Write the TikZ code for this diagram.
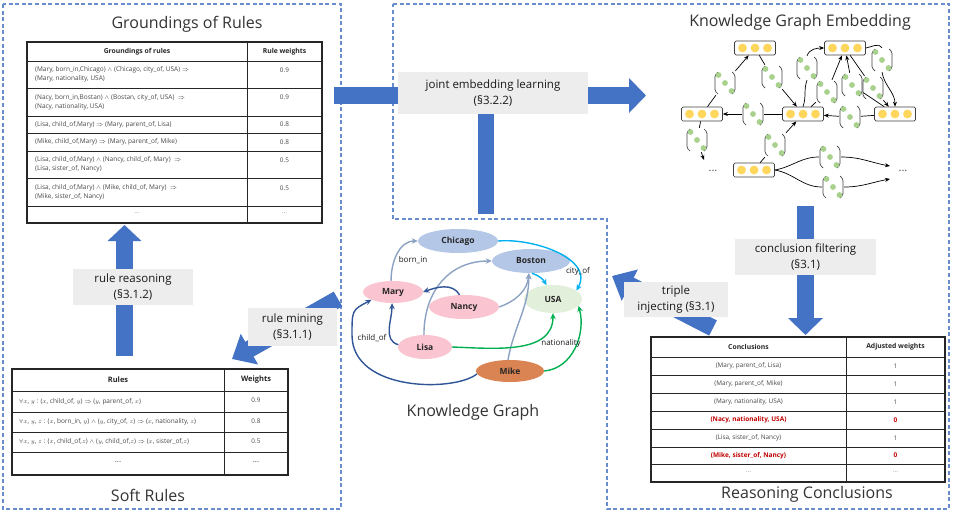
\documentclass[tikz,border=0pt]{standalone}
\usepackage{fontspec}
\setmainfont{Open Sans}
\usetikzlibrary{arrows.meta,shapes.geometric}

\definecolor{dashblue}{RGB}{104,140,206}
\definecolor{bigblue}{RGB}{68,114,196}
\definecolor{labelgray}{RGB}{237,237,237}
\definecolor{kgblue}{RGB}{180,199,231}
\definecolor{kggreen}{RGB}{226,239,218}
\definecolor{kgpink}{RGB}{250,196,208}
\definecolor{kgorange}{RGB}{218,132,84}
\definecolor{edgegray}{RGB}{140,162,194}
\definecolor{edgecyan}{RGB}{0,176,240}
\definecolor{edgedark}{RGB}{47,85,151}
\definecolor{edgegreen}{RGB}{0,176,80}
\definecolor{dotyellow}{RGB}{255,214,92}
\definecolor{dotgreen}{RGB}{169,209,142}
\definecolor{falsered}{RGB}{192,0,0}

\tikzset{
  region/.style={draw=dashblue, line width=1.1pt, dash pattern=on 4pt off 2.6pt},
  title/.style={font=\fontsize{16}{18}\selectfont, text=black!80},
  tabline/.style={draw=black!85, line width=0.9pt},
  tabframe/.style={draw=black!85, line width=1.4pt},
  headcell/.style={font=\fontsize{6.8}{8}\selectfont\bfseries, text=black!85},
  cell/.style={font=\fontsize{6.5}{8.8}\selectfont, text=black!72, anchor=west, align=left, inner sep=0pt},
  wcell/.style={font=\fontsize{6.4}{8}\selectfont, text=black!72},
  redcell/.style={font=\fontsize{6.5}{8}\selectfont\bfseries, text=falsered},
  steplabel/.style={fill=labelgray, align=center, inner sep=0pt, font=\fontsize{11.5}{16}\selectfont, text=black!90},
  bigarrow/.style={draw=bigblue, line width=17pt, -{Triangle[length=17pt,width=34pt]}},
  bigbar/.style={draw=bigblue, line width=16pt},
  kgnode/.style={ellipse, inner sep=1pt, font=\fontsize{8.5}{10}\selectfont\bfseries, text=black!85},
  elabel/.style={font=\fontsize{8}{9}\selectfont, text=black!90},
  kgarrow/.style={line width=1.4pt, -{Stealth[length=6pt,width=5.5pt]}},
  entbox/.style={draw=black!75, fill=white, rounded corners=1.5pt, line width=0.7pt, minimum width=41pt, minimum height=14pt, inner sep=0pt},
  relbox/.style={minimum width=22pt, minimum height=24pt, inner sep=0pt},
  brk/.style={draw=black!75, line width=0.7pt, rounded corners=1.5pt},
  embarrow/.style={line width=0.7pt, -{Stealth[length=5pt,width=4pt]}}
}

\begin{document}
\begin{tikzpicture}[x=1pt,y=-1pt]
\useasboundingbox (0,0) rectangle (953,512);

% regions
\draw[region] (3,4) rectangle (341,509);
\draw[region] (393,4) -- (949,4) -- (949,509) -- (607,509) -- (607,219) -- (393,219) -- cycle;

\node[title] (tgr) at (187,24) {Groundings of Rules};
\node[title] (tkge) at (800,22) {Knowledge Graph Embedding};
\node[title] (tkg) at (473,412) {Knowledge Graph};
\node[title] (tsr) at (148,495) {Soft Rules};
\node[title] (trc) at (807,494) {Reasoning Conclusions};

% groundings of rules
\draw[tabline] (247,42) -- (247,223);
\foreach \y in {61,88,116,133,151,178,206} \draw[tabline] (27,\y) -- (322,\y);
\draw[tabframe] (27,42) rectangle (322,223);
\node[headcell] (gh1) at (137,51.5) {Groundings of rules};
\node[headcell] (gh2) at (284.5,51.5) {Rule weights};
\node[cell] (g1) at (35,74.5) {(Mary, born\_in,Chicago) $\wedge$ (Chicago, city\_of, USA) $\Rightarrow$\\(Mary, nationality, USA)};
\node[cell] (g2) at (35,102) {(Nacy, born\_in,Bostan) $\wedge$ (Bostan, city\_of, USA) \ $\Rightarrow$\\(Nacy, nationality, USA)};
\node[cell] (g3) at (35,124.5) {(Lisa, child\_of,Mary) $\Rightarrow$ (Mary, parent\_of, Lisa)};
\node[cell] (g4) at (35,142) {(Mike, child\_of,Mary) $\Rightarrow$ (Mary, parent\_of, Mike)};
\node[cell] (g5) at (35,164.5) {(Lisa, child\_of,Mary) $\wedge$ (Nancy, child\_of, Mary) \ $\Rightarrow$\\(Lisa, sister\_of, Nancy)};
\node[cell] (g6) at (35,192) {(Lisa, child\_of,Mary) $\wedge$ (Mike, child\_of, Mary) \ $\Rightarrow$\\(Mike, sister\_of, Nancy)};
\node[wcell] (gw1) at (284.5,70) {0.9};
\node[wcell] (gw2) at (284.5,97) {0.9};
\node[wcell] (gw3) at (284.5,124.5) {0.8};
\node[wcell] (gw4) at (284.5,142) {0.8};
\node[wcell] (gw5) at (284.5,160) {0.5};
\node[wcell] (gw6) at (284.5,188) {0.5};
\node[wcell, text=black!45] (g7) at (137,213) {...};
\node[wcell, text=black!45] (gw7) at (284.5,213) {...};

% soft rules
\draw[tabline] (224,369) -- (224,475);
\foreach \y in {391,412,432,452} \draw[tabline] (12,\y) -- (288,\y);
\draw[tabframe] (12,369) rectangle (288,475);
\node[headcell, font=\fontsize{7.5}{9}\selectfont\bfseries] (sh1) at (118,380) {Rules};
\node[headcell, font=\fontsize{7.5}{9}\selectfont\bfseries] (sh2) at (256,380) {Weights};
\node[cell] (s1) at (19,402) {$\forall x$, $y$ : ($x$, child\_of, $y$) $\Rightarrow$ ($y$, parent\_of, $x$)};
\node[cell] (s2) at (19,422) {$\forall x$, $y$, $z$ : ($x$, born\_in, $y$) $\wedge$ ($y$, city\_of, $z$) $\Rightarrow$ ($x$, nationality, $z$)};
\node[cell] (s3) at (19,442) {$\forall x$, $y$, $z$ : ($x$, child\_of,$z$) $\wedge$ ($y$, child\_of,$z$) $\Rightarrow$ ($x$, sister\_of,$z$)};
\node[wcell] (sw1) at (256,400.5) {0.9};
\node[wcell] (sw2) at (256,421) {0.8};
\node[wcell] (sw3) at (256,441.5) {0.5};
\node[wcell, font=\fontsize{8}{9}\selectfont] (s4) at (118,462) {...};
\node[wcell, font=\fontsize{8}{9}\selectfont] (sw4) at (256,462) {...};

% reasoning conclusions
\draw[tabline] (846,337) -- (846,482);
\foreach \y in {357,375,393,411,429,447,464} \draw[tabline] (651,\y) -- (945,\y);
\draw[tabframe] (651,337) rectangle (945,482);
\node[headcell] (ch1) at (748.5,347) {Conclusions};
\node[headcell] (ch2) at (895.5,347) {Adjusted weights};
\node[wcell] (c1) at (748.5,366) {(Mary, parent\_of, Lisa)};
\node[wcell] (c2) at (748.5,384) {(Mary, parent\_of, Mike)};
\node[wcell] (c3) at (748.5,402) {(Mary, nationality, USA)};
\node[redcell] (c4) at (748.5,420) {(Nacy, nationality, USA)};
\node[wcell] (c5) at (748.5,438) {(Lisa, sister\_of, Nancy)};
\node[redcell] (c6) at (748.5,455.5) {(Mike, sister\_of, Nancy)};
\node[wcell, text=black!45] (c7) at (748.5,472) {...};
\node[wcell] (cw1) at (895.5,366) {1};
\node[wcell] (cw2) at (895.5,384) {1};
\node[wcell] (cw3) at (895.5,402) {1};
\node[redcell] (cw4) at (895.5,420) {0};
\node[wcell] (cw5) at (895.5,438) {1};
\node[redcell] (cw6) at (895.5,455.5) {0};
\node[wcell, text=black!45] (cw7) at (895.5,472) {...};

% knowledge graph embedding
\node[entbox] (e1) at (755,48) {};
\node[entbox] (e2) at (845,48) {};
\node[entbox] (e3) at (702,114) {};
\node[entbox] (e4) at (803,114) {};
\node[entbox] (e5) at (895,114) {};
\node[entbox] (e6) at (754,170) {};
\foreach \e in {e1,e2,e3,e4,e5,e6}
  \foreach \d in {-1,0,1} \fill[dotyellow] ([xshift=\d*12.5pt]\e.center) circle (4.4pt);

\node[relbox] (r1) at (725,83) {};
\node[relbox] (r2) at (772,77) {};
\node[relbox] (r3) at (753,114) {};
\node[relbox] (r4) at (850,117) {};
\node[relbox] (r5) at (697,140) {};
\node[relbox] (r6) at (775,145) {};
\node[relbox] (r7) at (830,157) {};
\node[relbox] (r8) at (833,187) {};
\node[relbox] (r9) at (807,68) {};
\node[relbox] (r10) at (827,92) {};
\node[relbox] (r11) at (852,85) {};
\node[relbox] (r12) at (882,60) {};
\node[relbox] (r13) at (873,88) {};
\foreach \r in {r1,r2,r3,r4,r5,r6,r7,r8,r9,r10,r11,r12,r13} {
  \draw[brk] ([shift={(-7,-11)}]\r.center) -- ++(-3,3) -- ++(0,16) -- ++(3,3);
  \draw[brk] ([shift={(7,-11)}]\r.center) -- ++(3,3) -- ++(0,16) -- ++(-3,3);
  \foreach \d in {-1,0,1} \fill[dotgreen] ([shift={(\d*6.5,\d*8)}]\r.center) circle (2.9pt);
}

\node[font=\fontsize{11}{12}\selectfont, text=black!70] (dotsl) at (713,171) {...};
\node[font=\fontsize{11}{12}\selectfont, text=black!70] (dotsr) at (903,171) {...};
\coordinate (d5) at (704,160);
\coordinate (d7) at (890,166);
\coordinate (d8) at (890,179);

\draw[embarrow] (e3) -- (r1) -- (e1);
\draw[embarrow] (e1) -- (r2) -- (e4);
\draw[embarrow] (e4) -- (r3) -- (e3);
\draw[embarrow] (e5) -- (r4) -- (e4);
\draw[embarrow] (e3) -- (r5) -- (d5);
\draw[embarrow] (e6) -- (r6) -- (e4);
\draw[embarrow] (e6.east) to[out=10,in=180] (r7.west) (r7.east) to[out=0,in=170] (d7);
\draw[embarrow] (e6.east) to[out=-10,in=180] (r8.west) (r8.east) to[out=0,in=190] (d8);
\draw[embarrow] (e4.north) to[out=70,in=-110] (r9.south) (r9.north) to[out=70,in=180] (e2.west);
\draw[embarrow] (e4) -- (r10) -- (e2);
\draw[embarrow] (e5) -- (r11) -- (e2);
\draw[embarrow] (e2) -- (r13) -- (e5);
\draw[embarrow] (e2.east) to[out=10,in=120] (r12.north) (r12.south) to[out=-80,in=90] (e5.north);

% knowledge graph
\node[kgnode, fill=kgblue, minimum width=80pt, minimum height=24pt] (chicago) at (458,241) {Chicago};
\node[kgnode, fill=kgblue, minimum width=78pt, minimum height=24pt] (boston) at (531,261) {Boston};
\node[kgnode, fill=kggreen, minimum width=58pt, minimum height=28pt] (usa) at (553,299) {USA};
\node[kgnode, fill=kgpink, minimum width=60pt, minimum height=22pt] (mary) at (393,292) {Mary};
\node[kgnode, fill=kgpink, minimum width=70pt, minimum height=24pt] (nancy) at (464,307) {Nancy};
\node[kgnode, fill=kgpink, minimum width=54pt, minimum height=24pt] (lisa) at (425,347) {Lisa};
\node[kgnode, fill=kgorange, minimum width=68pt, minimum height=22pt] (mike) at (510,371) {Mike};

\draw[kgarrow, edgegray] (mary.100) to[out=90,in=180] (chicago.west);
\draw[kgarrow, edgegray] (lisa.95) to[out=90,in=180,looseness=1.1] (boston.west);
\draw[kgarrow, edgegray] (nancy.east) to[out=20,in=-95] (boston.-100);
\draw[kgarrow, edgegray] (mike.100) to[out=80,in=-90] (boston.-100);
\draw[kgarrow, edgecyan] (chicago.east) to[out=5,in=60] (usa.20);
\draw[kgarrow, edgecyan] (boston.-85) to[out=-20,in=120] (usa.115);
\draw[kgarrow, edgedark] (nancy.110) to[out=120,in=20] (mary.east);
\draw[kgarrow, edgedark] (lisa.175) to[out=165,in=-90] (mary.-95);
\draw[kgarrow, edgedark] (mike.185) .. controls (455,392) and (352,392) .. (352,335) .. controls (352,310) .. (mary.200);
\draw[kgarrow, edgegreen] (lisa.east) to[out=-2,in=-90] (usa.south);
\draw[kgarrow, edgegreen] (mike.east) to[out=5,in=-75] (usa.-15);

\node[elabel] (lborn) at (413,260) {born\_in};
\node[elabel] (lcity) at (578,271) {city\_of};
\node[elabel] (lchild) at (372,338) {child\_of};
\node[elabel] (lnat) at (561,343) {nationality};

% big arrows
\coordinate (jstart) at (334,95.5);
\coordinate (jend) at (646,95.5);
\draw[bigarrow] (jstart) -- (jend);
\coordinate (kgtop) at (486,214);
\node[steplabel, minimum width=190pt, minimum height=42pt] (joint) at (493,93) {joint embedding learning\\(§3.2.2)};
\draw[bigbar] (joint.south -| kgtop) -- (kgtop);

\coordinate (rrstart) at (124.5,356);
\coordinate (rrend) at (124.5,225);
\draw[bigarrow, -{Triangle[length=16pt,width=33pt]}] (rrstart) -- (rrend);
\node[steplabel, minimum width=120pt, minimum height=36pt] (reason) at (133,287) {rule reasoning\\(§3.1.2)};

\coordinate (rmstart) at (338,299);
\coordinate (rmend) at (232,359);
\draw[bigarrow, -{Triangle[length=20pt,width=34pt]}] (rmstart) -- (rmend);
\node[steplabel, minimum width=89pt, minimum height=38pt] (mining) at (292.5,327) {rule mining\\(§3.1.1)};

\coordinate (cfstart) at (805.5,206);
\coordinate (cfend) at (805.5,335);
\draw[bigarrow] (cfstart) -- (cfend);
\node[steplabel, minimum width=141pt, minimum height=36pt] (filter) at (805.5,257) {conclusion filtering\\(§3.1)};

\coordinate (tistart) at (713,328);
\coordinate (tiend) at (612,276);
\draw[bigarrow, -{Triangle[length=20pt,width=34pt]}] (tistart) -- (tiend);
\node[steplabel, minimum width=104pt, minimum height=35pt] (inject) at (676,299.5) {triple\\injecting (§3.1)};
\end{tikzpicture}
\end{document}
